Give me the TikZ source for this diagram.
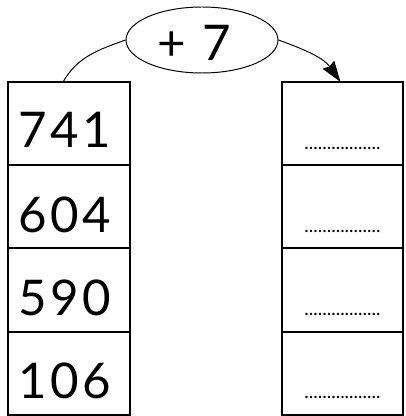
\documentclass[tikz,border=0pt]{standalone}
\usepackage{fontspec}
\setmainfont{Lato}
\newfontfamily\numfont{Lato}[LetterSpace=7]
\usetikzlibrary{positioning}
\usetikzlibrary{shapes.geometric}
\usetikzlibrary{arrows.meta}

\begin{document}
\begin{tikzpicture}[
    cell/.style={draw, line width=1.4pt, minimum width=3.05cm, minimum height=2.08cm, outer sep=0pt, inner sep=0pt},
    num/.style={font=\numfont\fontsize{35}{40}\selectfont, inner sep=0pt},
    dotline/.style={font=\fontsize{13.5}{15}\selectfont, anchor=base, inner sep=0pt},
    link/.style={line width=0.7pt}
]
    \useasboundingbox (0,0) rectangle (10.125,-10.4);

    % left column
    \node[cell] (l1) at (1.725,-3.09) {};
    \node[cell, below=0pt of l1] (l2) {};
    \node[cell, below=0pt of l2] (l3) {};
    \node[cell, below=0pt of l3] (l4) {};

    \node[num] (n741) at ([xshift=-0.1cm, yshift=-0.15cm]l1.center) {741};
    \node[num] (n604) at ([xshift=-0.1cm, yshift=-0.2cm]l2.center) {604};
    \node[num] (n590) at ([xshift=-0.1cm, yshift=-0.2cm]l3.center) {590};
    \node[num] (n106) at ([xshift=-0.1cm, yshift=-0.2cm]l4.center) {106};

    % right column
    \node[cell, minimum width=3.025cm] (r1) at (8.5625,-3.09) {};
    \node[cell, minimum width=3.025cm, below=0pt of r1] (r2) {};
    \node[cell, minimum width=3.025cm, below=0pt of r2] (r3) {};
    \node[cell, minimum width=3.025cm, below=0pt of r3] (r4) {};

    \node[dotline] (d1) at ([yshift=0.4cm]r1.south) {.................};
    \node[dotline] (d2) at ([yshift=0.4cm]r2.south) {.................};
    \node[dotline] (d3) at ([yshift=0.4cm]r3.south) {.................};
    \node[dotline] (d4) at ([yshift=0.4cm]r4.south) {.................};

    % operation
    \node[draw, ellipse, link, minimum width=3.8cm, minimum height=1.65cm] (op) at (5.05,-1.0) {};
    \node[num] (plus) at ([xshift=-0.2cm, yshift=-0.06cm]op.center) {+ 7};

    \draw[link] ([xshift=-0.15cm]l1.north) to[out=60, in=200] (op.west);
    \draw[link, -{Stealth[length=15pt, width=10pt, inset=1.5pt]}] (op.east) to[out=-20, in=125] ([xshift=-0.05cm]r1.north);
\end{tikzpicture}
\end{document}
